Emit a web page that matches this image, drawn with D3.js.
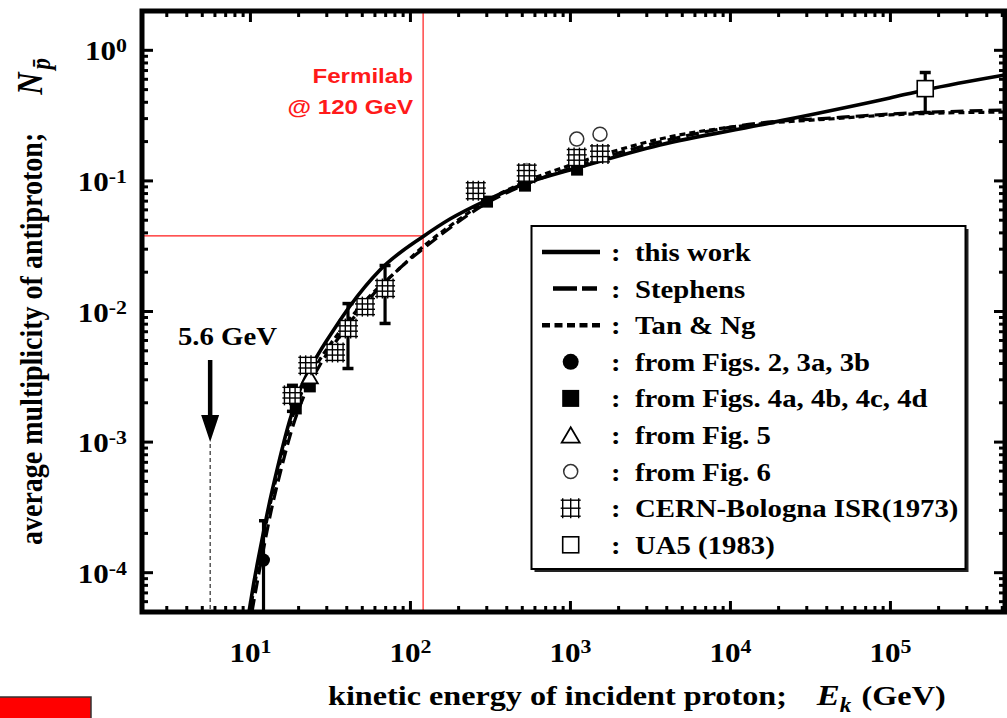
<!DOCTYPE html>
<html>
<head>
<meta charset="utf-8">
<script src="https://cdn.jsdelivr.net/npm/d3@7"></script>
<style>
  body { margin: 0; background: #fff; }
  svg { display: block; }
</style>
</head>
<body>
<svg id="chart" width="1007" height="718"></svg>
<script>
// ---- model curves: incident kinetic energy (GeV) vs mean antiproton multiplicity ----
const thisWorkE = [9.79, 10.52, 11.47, 12.86, 14.86, 17.65, 20.39, 25.93, 32.8, 41.9, 64.5, 121.4, 176.6, 300.7, 534.6, 1098, 3626, 15290, 99280, 164300, 519500];
const thisWorkN = [5.0e-5, 8.5e-5, 1.49e-4, 3.02e-4, 6.56e-4, 1.48e-3, 2.51e-3, 4.49e-3, 7.10e-3, 0.01102, 0.0208, 0.0379, 0.0511, 0.0714, 0.0964, 0.1256, 0.1884, 0.268, 0.432, 0.497, 0.647];

const stephensE = [10.22, 10.98, 11.97, 13.43, 15.51, 18.44, 21.60, 27.19, 36.27, 55.83, 85.97, 121.4, 176.6, 300.7, 534.6, 1098, 3626, 15290, 41860, 99280, 519500];
const stephensN = [5.0e-5, 8.2e-5, 1.44e-4, 2.92e-4, 6.11e-4, 1.33e-3, 2.25e-3, 3.89e-3, 6.50e-3, 0.01268, 0.02153, 0.0306, 0.0436, 0.0678, 0.0947, 0.130, 0.199, 0.2775, 0.303, 0.325, 0.349];

const tanNgE = [9.93, 10.67, 11.63, 13.05, 15.07, 17.91, 20.98, 26.80, 35.24, 54.25, 83.5, 121.4, 176.6, 300.7, 534.6, 1098, 3626, 15290, 41860, 99280, 519500];
const tanNgN = [5.0e-5, 8.34e-5, 1.49e-4, 3.02e-4, 6.44e-4, 1.43e-3, 2.42e-3, 4.18e-3, 6.73e-3, 0.01268, 0.0208, 0.0318, 0.0452, 0.0702, 0.0998, 0.1371, 0.2094, 0.273, 0.298, 0.320, 0.337];

// ---- measured / derived points ----
const figs23E = [12.07];
const figs23N = [1.25e-4];
const figs23Lo = [3.0e-5];
const figs23Hi = [2.5e-4];

const figs4E = [19.2, 23.5, 301, 520, 1100];
const figs4N = [1.81e-3, 2.67e-3, 0.0694, 0.092, 0.122];

const fig5E = [23.5];
const fig5N = [3.18e-3];

const fig6E = [533, 1095, 1530];
const fig6N = [0.12, 0.209, 0.228];

const cernE = [18.3, 23.0, 33.8, 40.7, 52.0, 69.4, 256, 533, 1095, 1530];
const cernN = [2.28e-3, 3.87e-3, 4.86e-3, 7.41e-3, 0.0109, 0.0150, 0.0841, 0.1146, 0.151, 0.161];
const cernLo = [1.72e-3, null, null, 3.66e-3, null, 8.1e-3, null, null, null, null];
const cernHi = [2.72e-3, null, null, 0.0115, null, 0.0225, null, null, null, null];

const ua5E = [1.65e5];
const ua5N = [0.509];
const ua5Lo = [0.334];
const ua5Hi = [0.676];

// reference markers
const fermilabE = 120;
const fermilabN = 0.038;
const thresholdE = 5.6;

// axes
const xDomain = [2.1, 5.2e5];
const yDomain = [5e-5, 2];
const xMajor = [10, 100, 1000, 10000, 100000];
const xExp = ["1", "2", "3", "4", "5"];
const yMajor = [1, 0.1, 0.01, 0.001, 0.0001];
const yExp = ["0", "-1", "-2", "-3", "-4"];

const legendLabels = ["this work", "Stephens", "Tan & Ng", "from Figs. 2, 3a, 3b",
  "from Figs. 4a, 4b, 4c, 4d", "from Fig. 5", "from Fig. 6", "CERN-Bologna ISR(1973)", "UA5 (1983)"];

// ---- drawing ----
const SX = 1.15;                  // horizontal text stretch of the figure
const serif = "'Liberation Serif', 'Times New Roman', serif";
const sans = "'Liberation Sans', Arial, sans-serif";
const RED = "#ff1a1a";

const svg = d3.select("#chart");
const L = 142, R = 1005, T = 11, B = 612;

const x = d3.scaleLog().domain(xDomain).range([L, R]);
const y = d3.scaleLog().domain(yDomain).range([B, T]);

svg.append("defs").append("clipPath").attr("id", "plotClip")
  .append("rect").attr("x", L).attr("y", T).attr("width", R - L).attr("height", B - T);

const zip = (E, N) => E.map((e, i) => ({ E: e, N: N[i] }));

// red guide lines for the 120 GeV beam
svg.append("line").attr("x1", x(fermilabE)).attr("x2", x(fermilabE))
  .attr("y1", T).attr("y2", B).attr("stroke", RED).attr("stroke-width", 1.2);
svg.append("line").attr("x1", L).attr("x2", x(fermilabE))
  .attr("y1", y(fermilabN)).attr("y2", y(fermilabN)).attr("stroke", RED).attr("stroke-width", 1.2);

// ticks (inward, on all four sides)
const minorX = [];
for (let d = 1; d <= 100000; d *= 10) for (let m = 1; m <= 9; m++) {
  const v = m * d; if (v >= xDomain[0] && v <= xDomain[1]) minorX.push(v);
}
const minorY = [];
for (let d = 1e-5; d <= 1; d *= 10) for (let m = 1; m <= 9; m++) {
  const v = m * d; if (v >= yDomain[0] && v <= yDomain[1]) minorY.push(v);
}
const isMajor = v => Math.abs(Math.log10(v) - Math.round(Math.log10(v))) < 1e-6;
const tickG = svg.append("g").attr("stroke", "#000").attr("stroke-width", 3);
minorX.forEach(v => {
  const len = isMajor(v) ? 11 : 6;
  tickG.append("line").attr("x1", x(v)).attr("x2", x(v)).attr("y1", B).attr("y2", B - len);
  tickG.append("line").attr("x1", x(v)).attr("x2", x(v)).attr("y1", T).attr("y2", T + len);
});
minorY.forEach(v => {
  const len = isMajor(v) ? 11 : 6;
  tickG.append("line").attr("y1", y(v)).attr("y2", y(v)).attr("x1", L).attr("x2", L + len);
  tickG.append("line").attr("y1", y(v)).attr("y2", y(v)).attr("x1", R).attr("x2", R - len);
});

// tick labels
xMajor.forEach((v, i) => {
  const t = svg.append("text")
    .attr("transform", `translate(${x(v)},662) scale(${SX},1)`)
    .attr("text-anchor", "middle")
    .attr("font-family", serif).attr("font-weight", "bold").attr("font-size", 27);
  t.append("tspan").text("10");
  t.append("tspan").attr("font-size", 19).attr("dy", -9).text(xExp[i]);
});
yMajor.forEach((v, i) => {
  const t = svg.append("text")
    .attr("transform", `translate(127,${y(v) + 10}) scale(${SX},1)`)
    .attr("text-anchor", "end")
    .attr("font-family", serif).attr("font-weight", "bold").attr("font-size", 27);
  t.append("tspan").text("10");
  t.append("tspan").attr("font-size", 19).attr("dy", -8).text(yExp[i]);
});

// 5.6 GeV threshold marker
svg.append("line").attr("x1", x(thresholdE)).attr("x2", x(thresholdE))
  .attr("y1", 444).attr("y2", B).attr("stroke", "#000").attr("stroke-width", 1)
  .attr("stroke-dasharray", "4,3");
svg.append("line").attr("x1", x(thresholdE)).attr("x2", x(thresholdE))
  .attr("y1", 360).attr("y2", 422).attr("stroke", "#000").attr("stroke-width", 4.5);
svg.append("path")
  .attr("d", `M${x(thresholdE) - 9},415 L${x(thresholdE) + 9},415 L${x(thresholdE)},442 Z`)
  .attr("fill", "#000");
svg.append("text").attr("transform", `translate(178,345) scale(${SX},1)`)
  .attr("font-family", serif).attr("font-weight", "bold").attr("font-size", 25)
  .text("5.6 GeV");

// Fermilab label
[["Fermilab", 83], ["@ 120 GeV", 114]].forEach(([s, yy]) => {
  svg.append("text").attr("transform", `translate(413,${yy}) scale(${SX},1)`)
    .attr("text-anchor", "end").attr("font-family", sans).attr("font-weight", "bold")
    .attr("font-size", 21).attr("fill", RED).text(s);
});

// model curves
const plot = svg.append("g").attr("clip-path", "url(#plotClip)");
const line = d3.line().x(d => x(d.E)).y(d => y(d.N)).curve(d3.curveMonotoneX);
plot.append("path").datum(zip(tanNgE, tanNgN)).attr("d", line)
  .attr("fill", "none").attr("stroke", "#000").attr("stroke-width", 3.2).attr("stroke-dasharray", "6,4");
plot.append("path").datum(zip(stephensE, stephensN)).attr("d", line)
  .attr("fill", "none").attr("stroke", "#000").attr("stroke-width", 3.2).attr("stroke-dasharray", "13,6");
plot.append("path").datum(zip(thisWorkE, thisWorkN)).attr("d", line)
  .attr("fill", "none").attr("stroke", "#000").attr("stroke-width", 3.6);

// marker shapes
function gridBox(g, cx, cy, s, n) {
  const h = s / 2, ext = 2;
  g.append("rect").attr("x", cx - h).attr("y", cy - h).attr("width", s).attr("height", s)
    .attr("fill", "#fff").attr("stroke", "none");
  for (let k = 0; k <= n; k++) {
    const o = -h + k * s / n;
    g.append("line").attr("x1", cx - h - ext).attr("x2", cx + h + ext)
      .attr("y1", cy + o).attr("y2", cy + o).attr("stroke", "#000").attr("stroke-width", 1.4);
    g.append("line").attr("y1", cy - h - ext).attr("y2", cy + h + ext)
      .attr("x1", cx + o).attr("x2", cx + o).attr("stroke", "#000").attr("stroke-width", 1.4);
  }
}
function openSquare(g, cx, cy, s) {
  g.append("rect").attr("x", cx - s / 2).attr("y", cy - s / 2).attr("width", s).attr("height", s)
    .attr("fill", "#fff").attr("stroke", "#000").attr("stroke-width", 1.6);
}
function filledSquare(g, cx, cy, s) {
  g.append("rect").attr("x", cx - s / 2).attr("y", cy - s / 2).attr("width", s).attr("height", s)
    .attr("fill", "#000");
}
function triangle(g, cx, cy, s) {
  const h = s * 0.85;
  g.append("path").attr("d", `M${cx - s / 2},${cy + h / 2} L${cx + s / 2},${cy + h / 2} L${cx},${cy - h / 2} Z`)
    .attr("fill", "#fff").attr("stroke", "#000").attr("stroke-width", 1.8);
}
function openCircle(g, cx, cy, r, col) {
  g.append("circle").attr("cx", cx).attr("cy", cy).attr("r", r)
    .attr("fill", "#fff").attr("stroke", col || "#333").attr("stroke-width", 1.5);
}
function filledCircle(g, cx, cy, r) {
  g.append("circle").attr("cx", cx).attr("cy", cy).attr("r", r).attr("fill", "#000");
}
function errorBar(g, e, lo, hi, cap) {
  const cx = x(e);
  g.append("line").attr("x1", cx).attr("x2", cx).attr("y1", y(lo)).attr("y2", y(hi))
    .attr("stroke", "#000").attr("stroke-width", 3.2);
  [lo, hi].forEach(v => {
    g.append("line").attr("x1", cx - cap / 2).attr("x2", cx + cap / 2)
      .attr("y1", y(v)).attr("y2", y(v)).attr("stroke", "#000").attr("stroke-width", 3.5);
  });
}

const marks = svg.append("g").attr("clip-path", "url(#plotClip)");

// error bars behind markers
figs23E.forEach((e, i) => errorBar(marks, e, figs23Lo[i], figs23Hi[i], 9));
cernE.forEach((e, i) => { if (cernLo[i] !== null) errorBar(marks, e, cernLo[i], cernHi[i], 11); });
ua5E.forEach((e, i) => errorBar(marks, e, ua5Lo[i], ua5Hi[i], 11));

fig6E.forEach((e, i) => openCircle(marks, x(e), y(fig6N[i]), 7, i === 0 ? "#888" : "#333"));
figs4E.forEach((e, i) => filledSquare(marks, x(e), y(figs4N[i]), 12));
fig5E.forEach((e, i) => triangle(marks, x(e), y(fig5N[i]), 16));
cernE.forEach((e, i) => gridBox(marks, x(e), y(cernN[i]), 16, 3));
figs23E.forEach((e, i) => filledCircle(marks, x(e), y(figs23N[i]), 6.5));
ua5E.forEach((e, i) => openSquare(marks, x(e), y(ua5N[i]), 16));

// frame
svg.append("rect").attr("x", L).attr("y", T).attr("width", R - L).attr("height", B - T)
  .attr("fill", "none").attr("stroke", "#000").attr("stroke-width", 5);

// legend
const lg = svg.append("g");
lg.append("rect").attr("x", 534.5).attr("y", 229).attr("width", 434).attr("height", 343).attr("fill", "#222");
lg.append("rect").attr("x", 531.5).attr("y", 226).attr("width", 434).attr("height", 343)
  .attr("fill", "#fff").attr("stroke", "#000").attr("stroke-width", 2);
const rowY = i => 252 + i * 36.6;
const symX = 570.7;
lg.append("line").attr("x1", 542).attr("x2", 600).attr("y1", rowY(0)).attr("y2", rowY(0))
  .attr("stroke", "#000").attr("stroke-width", 4.5);
lg.append("line").attr("x1", 553).attr("x2", 597).attr("y1", rowY(1)).attr("y2", rowY(1))
  .attr("stroke", "#000").attr("stroke-width", 4.5).attr("stroke-dasharray", "24,5");
lg.append("line").attr("x1", 542).attr("x2", 600).attr("y1", rowY(2)).attr("y2", rowY(2))
  .attr("stroke", "#000").attr("stroke-width", 4.5).attr("stroke-dasharray", "8,4.5");
filledCircle(lg, symX, rowY(3), 8);
filledSquare(lg, symX, rowY(4), 17);
triangle(lg, symX, rowY(5), 18);
openCircle(lg, symX, rowY(6), 7, "#333");
gridBox(lg, symX, rowY(7), 16, 2);
openSquare(lg, symX, rowY(8), 16);
legendLabels.forEach((s, i) => {
  lg.append("text").attr("transform", `translate(611,${rowY(i) + 9}) scale(${SX},1)`)
    .attr("font-family", serif).attr("font-weight", "bold").attr("font-size", 25).text(":");
  lg.append("text").attr("transform", `translate(635,${rowY(i) + 9}) scale(${SX},1)`)
    .attr("font-family", serif).attr("font-weight", "bold").attr("font-size", 25).text(s);
});

// axis titles
const xt = svg.append("text").attr("transform", `translate(328,705) scale(${SX},1)`)
  .attr("font-family", serif).attr("font-weight", "bold").attr("font-size", 28);
xt.append("tspan").text("kinetic energy of incident proton;");
xt.append("tspan").attr("dx", 26).attr("font-style", "italic").attr("font-size", 30).text("E");
xt.append("tspan").attr("font-style", "italic").attr("font-size", 20).attr("dy", 7).text("k");
xt.append("tspan").attr("dy", -7).attr("dx", 9).text("(GeV)");

const yt = svg.append("text").attr("transform", `translate(42,545) rotate(-90) scale(1,1.15)`)
  .attr("font-family", serif).attr("font-weight", "bold").attr("font-size", 28);
yt.append("tspan").text("average multiplicity of antiproton;");
yt.append("tspan").attr("dx", 38).attr("font-style", "italic").attr("font-size", 31).text("N");
yt.append("tspan").attr("font-style", "italic").attr("font-size", 23).attr("dx", 3).attr("dy", 7).text("p\u0304");

// red tab in the lower-left corner
svg.append("rect").attr("x", -2).attr("y", 697).attr("width", 93).attr("height", 25)
  .attr("fill", "#ff0000").attr("stroke", "#333").attr("stroke-width", 1.5);
</script>
</body>
</html>
